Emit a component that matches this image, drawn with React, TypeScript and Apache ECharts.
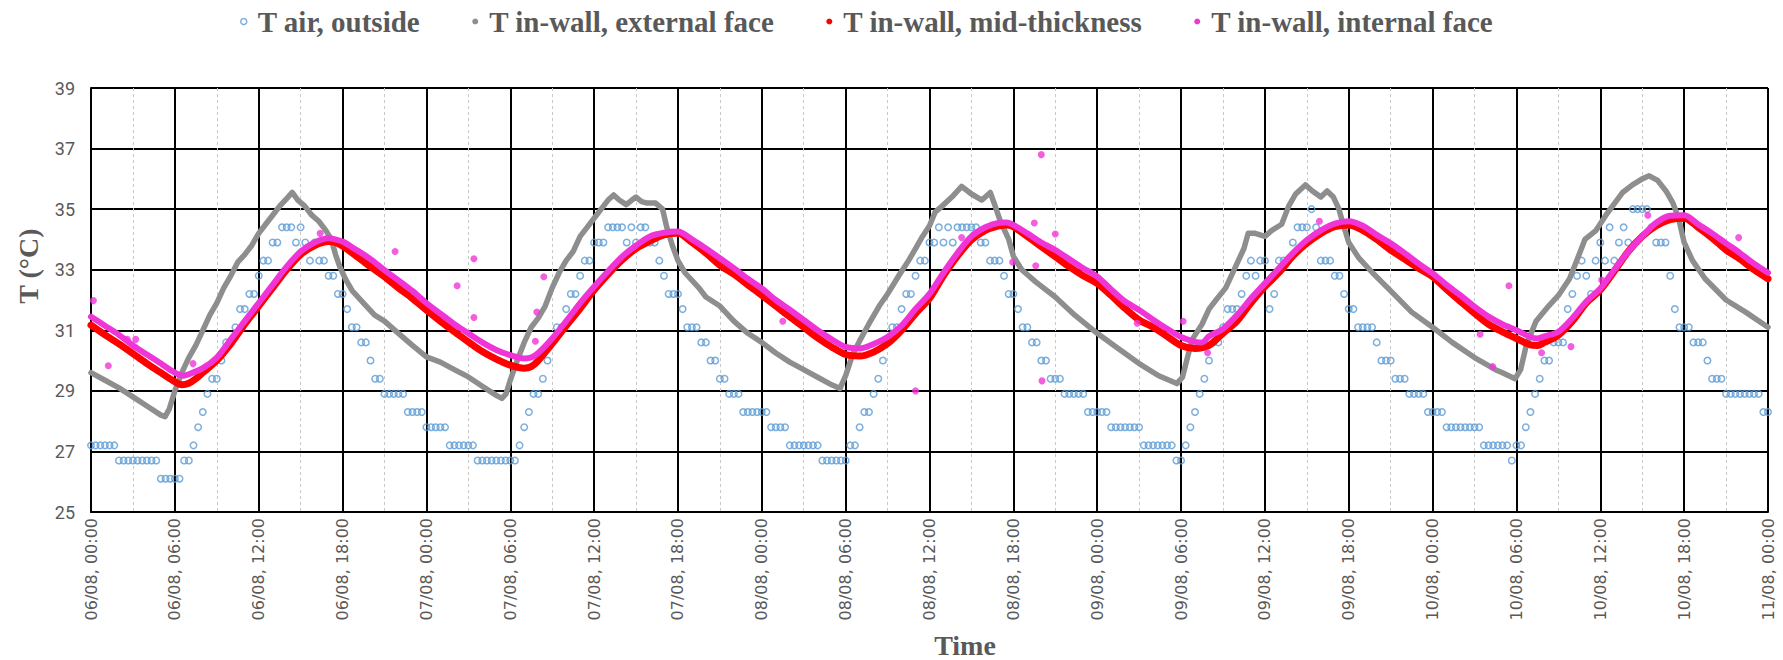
import React, { useEffect, useRef } from "react";
import * as echarts from "echarts";

// Tick labels of the time axis (hours counted from 06/08 00:00)
const dayLabels = ["06/08", "07/08", "08/08", "09/08", "10/08", "11/08"];
const hourLabels = ["00:00", "06:00", "12:00", "18:00"];

// Outside air temperature, logged every 20 minutes: [°C, consecutive readings]
const airRuns: [number, number][] = [
  [27.2, 6], [26.7, 9], [26.1, 5], [26.7, 2], [27.2, 1], [27.8, 1], [28.3, 1], [28.9, 1],
  [29.4, 2], [30.0, 1], [30.6, 2], [31.1, 1], [31.7, 2], [32.2, 2], [32.8, 1], [33.3, 2],
  [33.9, 2], [34.4, 3], [33.9, 1], [34.4, 1], [33.9, 1], [33.3, 1], [33.9, 1], [33.3, 2],
  [32.8, 2], [32.2, 2], [31.7, 1], [31.1, 2], [30.6, 2], [30.0, 1], [29.4, 2], [28.9, 5],
  [28.3, 4], [27.8, 5], [27.2, 6], [26.7, 9], [27.2, 1], [27.8, 1], [28.3, 1], [28.9, 2],
  [29.4, 1], [30.0, 1], [30.6, 1], [31.1, 2], [31.7, 1], [32.2, 2], [32.8, 1], [33.3, 2],
  [33.9, 3], [34.4, 4], [33.9, 1], [34.4, 1], [33.9, 1], [34.4, 2], [33.9, 2], [33.3, 1],
  [32.8, 1], [32.2, 3], [31.7, 1], [31.1, 3], [30.6, 2], [30.0, 2], [29.4, 2], [28.9, 3],
  [28.3, 6], [27.8, 4], [27.2, 7], [26.7, 6], [27.2, 2], [27.8, 1], [28.3, 2], [28.9, 1],
  [29.4, 1], [30.0, 1], [30.6, 1], [31.1, 2], [31.7, 1], [32.2, 2], [32.8, 1], [33.3, 2],
  [33.9, 2], [34.4, 1], [33.9, 1], [34.4, 1], [33.9, 1], [34.4, 5], [33.9, 2], [33.3, 3],
  [32.8, 1], [32.2, 2], [31.7, 1], [31.1, 2], [30.6, 2], [30.0, 2], [29.4, 3], [28.9, 5],
  [28.3, 5], [27.8, 7], [27.2, 7], [26.7, 2], [27.2, 1], [27.8, 1], [28.3, 1], [28.9, 1],
  [29.4, 1], [30.0, 1], [30.6, 2], [31.1, 1], [31.7, 3], [32.2, 1], [32.8, 1], [33.3, 1],
  [32.8, 1], [33.3, 2], [31.7, 1], [32.2, 1], [33.3, 3], [33.9, 1], [34.4, 3], [35.0, 1],
  [34.4, 1], [33.3, 3], [32.8, 2], [32.2, 1], [31.7, 2], [31.1, 4], [30.6, 1], [30.0, 3],
  [29.4, 3], [28.9, 4], [28.3, 4], [27.8, 8], [27.2, 6], [26.7, 1], [27.2, 2], [27.8, 1],
  [28.3, 1], [28.9, 1], [29.4, 1], [30.0, 2], [30.6, 3], [31.7, 1], [32.2, 1], [32.8, 1],
  [33.3, 1], [32.8, 1], [32.2, 1], [33.3, 1], [33.9, 1], [33.3, 1], [34.4, 1], [33.3, 1],
  [33.9, 1], [34.4, 1], [33.9, 1], [35.0, 4], [34.4, 1], [33.9, 3], [32.8, 1], [31.7, 1],
  [31.1, 3], [30.6, 3], [30.0, 1], [29.4, 3], [28.9, 8], [28.3, 2],
];
const AIR_STEP_H = 1 / 3;

// In-wall temperatures: [hours since 06/08 00:00, °C]
const externalFace: [number, number][] = [
  [0, 29.6], [1, 29.35], [2, 29.1], [3, 28.8], [4, 28.5], [5, 28.2], [5.3, 28.15], [5.6, 28.4],
  [6, 29.0], [6.5, 29.6], [7, 30.1], [7.5, 30.5], [8, 31.0], [8.5, 31.5], [9, 31.9], [9.5, 32.4],
  [10, 32.8], [10.5, 33.25], [11, 33.5], [11.5, 33.8], [12, 34.2], [12.5, 34.5], [13, 34.8],
  [13.5, 35.1], [14, 35.35], [14.4, 35.55], [14.8, 35.3], [15.3, 35.1], [15.8, 34.8], [16.3, 34.6],
  [16.8, 34.3], [17.2, 34.0], [17.5, 33.5], [17.8, 33.1], [18.2, 32.7], [18.7, 32.3], [19.6, 31.85],
  [20.3, 31.5], [21, 31.3], [22, 30.9], [23, 30.5], [24, 30.12], [25, 29.95], [26, 29.7],
  [27, 29.46], [28, 29.15], [29, 28.85], [29.4, 28.75], [29.7, 28.9], [30, 29.35], [30.5, 30.0],
  [31, 30.6], [31.5, 31.1], [32, 31.4], [32.5, 31.8], [33, 32.4], [33.5, 32.9], [34, 33.3],
  [34.5, 33.6], [35, 34.1], [35.5, 34.4], [36, 34.7], [36.5, 35.0], [37, 35.3], [37.4, 35.47],
  [37.8, 35.3], [38.3, 35.15], [38.7, 35.3], [39, 35.4], [39.4, 35.25], [39.8, 35.2], [40.4, 35.2],
  [40.9, 35.0], [41.2, 34.4], [41.6, 33.8], [42, 33.3], [42.5, 32.9], [43.5, 32.4], [44, 32.1],
  [45, 31.8], [46, 31.3], [47, 30.9], [48, 30.6], [49, 30.25], [50, 29.95], [51, 29.7],
  [52, 29.45], [53, 29.2], [53.6, 29.08], [54, 29.5], [54.5, 30.2], [55, 30.65], [55.65, 31.2],
  [56.4, 31.8], [57, 32.2], [57.8, 32.8], [58.5, 33.3], [59, 33.7], [59.5, 34.1], [60, 34.45],
  [60.4, 34.9], [60.9, 35.1], [61.6, 35.4], [62.3, 35.75], [63, 35.5], [63.75, 35.3],
  [64.35, 35.55], [64.7, 35.1], [65.07, 34.6], [65.67, 34.0], [66, 33.45], [66.6, 33.0],
  [67.6, 32.6], [69, 32.1], [70.4, 31.5], [72, 30.9], [73.5, 30.4], [75, 29.9], [76.4, 29.5],
  [77.7, 29.24], [78.1, 29.45], [78.4, 30.0], [78.8, 30.7], [79.5, 31.2], [80, 31.7],
  [80.5, 32.0], [81.2, 32.4], [81.9, 33.1], [82.5, 33.7], [82.8, 34.2], [83.3, 34.2], [84, 34.1],
  [84.5, 34.3], [85.2, 34.5], [85.7, 35.1], [86.2, 35.5], [86.9, 35.8], [87.4, 35.6], [88, 35.4],
  [88.45, 35.6], [88.9, 35.4], [89.3, 35.0], [89.6, 34.5], [90, 33.9], [90.7, 33.4], [91.7, 32.9],
  [93, 32.3], [94.5, 31.6], [96, 31.1], [97.4, 30.6], [99, 30.1], [100.5, 29.7], [101, 29.6],
  [101.9, 29.4], [102.3, 29.7], [102.7, 30.5], [103.4, 31.3], [104.3, 31.8], [105, 32.15],
  [105.8, 32.7], [106.4, 33.4], [106.9, 34.0], [107.7, 34.3], [108.4, 34.8], [109.6, 35.55],
  [110.3, 35.8], [111, 36.0], [111.5, 36.1], [112.1, 35.95], [112.7, 35.6], [113.2, 35.2],
  [113.6, 34.7], [114, 33.9], [114.6, 33.3], [115.5, 32.7], [117, 32.0], [118.4, 31.6], [120, 31.1],
];

const midThickness: [number, number][] = [
  [0, 31.17], [1, 30.85], [2, 30.55], [3, 30.23], [4, 29.9], [5, 29.6], [6, 29.3], [6.5, 29.2],
  [7, 29.25], [7.5, 29.4], [8, 29.6], [9, 30.0], [10, 30.55], [11, 31.2], [12, 31.8], [13, 32.4],
  [14, 33.0], [15, 33.5], [16, 33.8], [17, 33.93], [17.5, 33.9], [18, 33.78], [19, 33.45],
  [20, 33.1], [21, 32.77], [22, 32.4], [23, 32.05], [24, 31.67], [25, 31.3], [26, 30.95],
  [27, 30.62], [28, 30.3], [29, 30.05], [30, 29.85], [31, 29.75], [31.5, 29.8], [32, 30.0],
  [33, 30.56], [34, 31.15], [35, 31.72], [36, 32.33], [37, 32.85], [38, 33.32], [39, 33.7],
  [40, 33.95], [41, 34.15], [42, 34.2], [43, 33.9], [44, 33.55], [45, 33.15], [46, 32.85],
  [47, 32.5], [48, 32.16], [49, 31.8], [50, 31.45], [51, 31.1], [52, 30.75], [53, 30.45],
  [54, 30.2], [55, 30.15], [56, 30.28], [57, 30.56], [58, 31.0], [59, 31.55], [60, 32.05],
  [61, 32.8], [62, 33.45], [63, 33.98], [64, 34.3], [65, 34.45], [65.5, 34.48], [66, 34.42],
  [67, 34.1], [68, 33.76], [69, 33.43], [70, 33.1], [71, 32.8], [72, 32.55], [73, 32.15],
  [74, 31.72], [75, 31.34], [76, 31.1], [77, 30.8], [78, 30.5], [79, 30.4], [80, 30.5],
  [81, 30.9], [82, 31.3], [83, 31.9], [84, 32.44], [85, 32.9], [86, 33.45], [87, 33.87],
  [88, 34.2], [89, 34.42], [90, 34.48], [91, 34.3], [92, 34.0], [93, 33.65], [94, 33.35],
  [95, 33.05], [96, 32.77], [97, 32.35], [98, 31.95], [99, 31.56], [100, 31.2], [101, 30.95],
  [102, 30.73], [103, 30.52], [103.5, 30.5], [104, 30.6], [105, 30.84], [106, 31.3], [107, 31.9],
  [108, 32.33], [109, 32.95], [110, 33.6], [111, 34.1], [112, 34.45], [113, 34.65], [114, 34.7],
  [115, 34.4], [116, 34.05], [117, 33.65], [118, 33.35], [119, 33.0], [120, 32.7],
];

const internalFace: [number, number][] = [
  [0, 31.45], [1, 31.15], [2, 30.85], [3, 30.5], [4, 30.2], [5, 29.9], [6, 29.6], [6.6, 29.5],
  [7, 29.55], [8, 29.75], [9, 30.1], [10, 30.7], [11, 31.3], [12, 31.9], [13, 32.5], [14, 33.1],
  [15, 33.6], [16, 33.9], [17, 34.04], [17.5, 34.0], [18, 33.93], [19, 33.65], [20, 33.35],
  [21, 32.99], [22, 32.65], [23, 32.3], [24, 31.9], [25, 31.55], [26, 31.2], [27, 30.9],
  [28, 30.6], [29, 30.35], [30, 30.18], [31, 30.07], [31.5, 30.1], [32, 30.25], [33, 30.73],
  [34, 31.3], [35, 31.9], [36, 32.44], [37, 32.95], [38, 33.43], [39, 33.8], [40, 34.1],
  [41, 34.22], [42, 34.26], [43, 34.0], [44, 33.7], [45, 33.38], [46, 33.05], [47, 32.7],
  [48, 32.38], [49, 32.0], [50, 31.68], [51, 31.34], [52, 31.0], [53, 30.7], [54, 30.45],
  [55, 30.4], [56, 30.55], [57, 30.78], [58, 31.15], [59, 31.7], [60, 32.2], [61, 32.9],
  [62, 33.55], [63, 34.1], [64, 34.4], [65, 34.55], [65.5, 34.56], [66, 34.48], [67, 34.2],
  [68, 33.9], [69, 33.65], [70, 33.35], [71, 33.05], [72, 32.77], [73, 32.35], [74, 31.95],
  [75, 31.67], [76, 31.35], [77, 31.05], [78, 30.78], [79, 30.62], [79.5, 30.6], [80, 30.8],
  [81, 31.05], [82, 31.5], [83, 32.05], [84, 32.55], [85, 33.05], [86, 33.55], [87, 33.98],
  [88, 34.3], [89, 34.52], [90, 34.6], [91, 34.45], [92, 34.15], [93, 33.87], [94, 33.55],
  [95, 33.2], [96, 32.88], [97, 32.5], [98, 32.15], [99, 31.78], [100, 31.45], [101, 31.2],
  [102, 31.0], [103, 30.78], [103.5, 30.73], [104, 30.8], [105, 30.95], [106, 31.4], [107, 31.95],
  [108, 32.38], [109, 33.0], [110, 33.6], [111, 34.1], [112, 34.55], [113, 34.78], [114, 34.8],
  [115, 34.5], [116, 34.2], [117, 33.87], [118, 33.55], [119, 33.2], [120, 32.9],
];

// Isolated internal-face readings away from the main trace
const internalFaceSpikes: [number, number][] = [
  [0.17, 31.98], [1.24, 29.83], [2.6, 30.7], [3.2, 30.7], [7.3, 29.9], [16.4, 34.2],
  [21.76, 33.6], [26.2, 32.47], [27.4, 33.36], [27.4, 31.42], [32.4, 32.77], [31.9, 31.6],
  [31.8, 30.64], [49.5, 31.3], [59.0, 29.0], [68.0, 36.8], [67.5, 34.54], [67.6, 33.13],
  [65.95, 33.25], [69.0, 34.18], [62.3, 34.06], [68.05, 29.33], [74.86, 31.23], [78.15, 31.3],
  [79.9, 30.26], [87.9, 34.6], [99.4, 30.87], [100.3, 29.8], [101.46, 32.47], [103.8, 30.26],
  [105.9, 30.46], [108.1, 32.66], [111.4, 34.8], [117.9, 34.06],
];

const AIR = "T air, outside";
const EXT = "T in-wall, external face";
const MID = "T in-wall, mid-thickness";
const INT = "T in-wall, internal face";

const C_AIR = "#5B9BD5";
const C_EXT = "#8E8E8E";
const C_MID = "#FF0000";
const C_INT = "#F035D8";
const TXT = "#595959";

function airPoints(): [number, number][] {
  const pts: [number, number][] = [];
  let i = 0;
  for (const [t, n] of airRuns) {
    for (let k = 0; k < n; k++) {
      pts.push([i * AIR_STEP_H, t]);
      i++;
    }
  }
  return pts;
}

function timeLabel(v: number): string {
  const day = Math.floor(v / 24);
  const hh = Math.round((v % 24) / 6);
  return `${dayLabels[day]}, ${hourLabels[hh]}`;
}

export default function App() {
  const ref = useRef<HTMLDivElement>(null);

  useEffect(() => {
    document.body.style.margin = "0";
    if (!ref.current) return;
    const chart = echarts.init(ref.current, undefined, { renderer: "svg" });

    const legendFont = {
      fontFamily: "'Liberation Serif', 'Times New Roman', serif",
      fontWeight: "bold" as const,
      fontSize: 29,
      color: TXT,
    };

    chart.setOption({
      animation: false,
      backgroundColor: "#ffffff",
      legend: {
        left: 235,
        top: 2,
        itemGap: 52,
        itemWidth: 18,
        itemHeight: 6,
        textStyle: legendFont,
        data: [
          { name: AIR, icon: "circle", itemStyle: { color: "rgba(255,255,255,0)", borderColor: C_AIR, borderWidth: 1.5 } },
          { name: EXT, icon: "circle", itemStyle: { color: C_EXT, borderWidth: 0 } },
          { name: MID, icon: "circle", itemStyle: { color: C_MID, borderWidth: 0 } },
          { name: INT, icon: "circle", itemStyle: { color: C_INT, borderWidth: 0 } },
        ],
      },
      grid: { left: 91, right: 15, top: 88, bottom: 148, containLabel: false },
      xAxis: {
        type: "value",
        min: 0,
        max: 120,
        interval: 6,
        axisLine: { show: true, onZero: false, lineStyle: { color: "#000", width: 2 } },
        axisTick: { show: false },
        axisLabel: {
          rotate: 90,
          margin: 6,
          fontFamily: "'DejaVu Sans', sans-serif",
          fontSize: 16,
          color: TXT,
          showMinLabel: true,
          showMaxLabel: true,
          formatter: (v: number) => timeLabel(v),
        },
        splitLine: { show: true, lineStyle: { color: "#000", width: 2 } },
        minorTick: { show: false, splitNumber: 2 },
        minorSplitLine: { show: true, lineStyle: { color: "#C8C8C8", width: 1, type: [3, 3] } },
      },
      yAxis: {
        type: "value",
        min: 25,
        max: 39,
        interval: 2,
        axisLine: { show: true, lineStyle: { color: "#000", width: 2 } },
        axisTick: { show: false },
        axisLabel: { margin: 16, fontFamily: "Roboto, sans-serif", fontSize: 18, color: TXT },
        splitLine: { show: true, lineStyle: { color: "#000", width: 2 } },
      },
      graphic: [
        {
          type: "text",
          x: 28,
          y: 266,
          rotation: Math.PI / 2,
          style: {
            text: "T (°C)",
            font: "bold 28px 'Liberation Serif', 'Times New Roman', serif",
            fill: TXT,
            align: "center",
            verticalAlign: "middle",
          },
        },
        {
          type: "text",
          x: 965,
          y: 645,
          style: {
            text: "Time",
            font: "bold 28px 'Liberation Serif', 'Times New Roman', serif",
            fill: TXT,
            align: "center",
            verticalAlign: "middle",
          },
        },
      ],
      series: [
        {
          name: AIR,
          type: "scatter",
          data: airPoints(),
          symbol: "circle",
          symbolSize: 6.5,
          itemStyle: { color: "rgba(255,255,255,0)", borderColor: C_AIR, borderWidth: 1.5 },
          z: 2,
        },
        {
          name: EXT,
          type: "line",
          data: externalFace,
          showSymbol: false,
          symbol: "circle",
          lineStyle: { color: C_EXT, width: 5.5, cap: "round", join: "round" },
          itemStyle: { color: C_EXT },
          z: 3,
        },
        {
          name: MID,
          type: "line",
          data: midThickness,
          smooth: 0.3,
          showSymbol: false,
          symbol: "circle",
          lineStyle: { color: C_MID, width: 7, cap: "round", join: "round" },
          itemStyle: { color: C_MID },
          z: 4,
        },
        {
          name: INT,
          type: "line",
          data: internalFace,
          smooth: 0.3,
          showSymbol: false,
          symbol: "circle",
          lineStyle: { color: C_INT, width: 6, cap: "round", join: "round" },
          itemStyle: { color: C_INT },
          z: 5,
        },
        {
          name: INT,
          type: "scatter",
          data: internalFaceSpikes,
          symbol: "circle",
          symbolSize: 7,
          itemStyle: { color: C_INT },
          z: 6,
        },
      ],
    });

    return () => chart.dispose();
  }, []);

  return <div ref={ref} style={{ width: 1783, height: 660 }} />;
}
